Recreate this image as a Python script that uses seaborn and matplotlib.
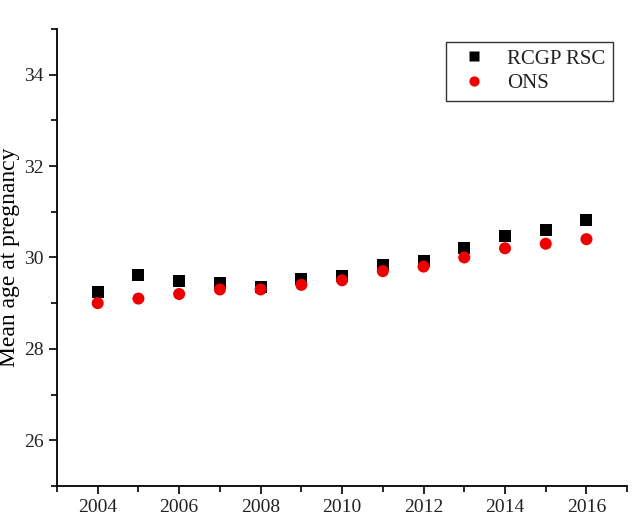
import pandas as pd
import matplotlib.pyplot as plt
import seaborn as sns
from matplotlib.ticker import MultipleLocator

# values
years = list(range(2004, 2017))
rcgp_rsc = [29.25, 29.62, 29.48, 29.43, 29.36, 29.52, 29.60, 29.84, 29.93, 30.21, 30.46, 30.60, 30.81]
ons = [29.0, 29.1, 29.2, 29.3, 29.3, 29.4, 29.5, 29.7, 29.8, 30.0, 30.2, 30.3, 30.4]
series_names = ['RCGP RSC', 'ONS']

data = pd.DataFrame({
    'Year': years * 2,
    'Age': rcgp_rsc + ons,
    'Source': [series_names[0]] * len(years) + [series_names[1]] * len(years),
})

sns.set_theme(style="ticks")
plt.rcParams['font.family'] = ['Liberation Serif', 'DejaVu Serif']

fig = plt.figure(figsize=(6.4, 5.27), dpi=100)
ax = fig.add_axes([0.089, 0.078, 0.891, 0.867])

sns.scatterplot(
    data=data, x='Year', y='Age', hue='Source', style='Source',
    palette=['black', '#ee0000'], markers=['s', 'o'],
    s=75, edgecolor='none', ax=ax,
)

ax.set_xlim(2003, 2017)
ax.set_ylim(25, 35)
ax.xaxis.set_major_locator(MultipleLocator(2))
ax.xaxis.set_minor_locator(MultipleLocator(1))
ax.yaxis.set_major_locator(MultipleLocator(2))
ax.yaxis.set_minor_locator(MultipleLocator(1))
ax.tick_params(which='both', direction='out', width=1.2, colors='black', labelsize=14)
ax.tick_params(which='major', length=6)
ax.tick_params(which='minor', length=4)
for lbl in ax.get_xticklabels() + ax.get_yticklabels():
    lbl.set_color('#222222')

sns.despine(ax=ax)
for side in ['left', 'bottom']:
    ax.spines[side].set_linewidth(1.3)
    ax.spines[side].set_color('black')

ax.set_xlabel('')
ax.set_ylabel('Mean age at pregnancy', fontsize=17, color='black')
ax.yaxis.set_label_coords(-0.064, 0.5)

leg = ax.legend(loc='upper right', bbox_to_anchor=(0.975, 0.972), fontsize=15,
                frameon=True, fancybox=False, edgecolor='black',
                handletextpad=0.6, borderpad=0.35, labelspacing=0.25,
                borderaxespad=0, markerscale=0.85)
leg.get_frame().set_linewidth(1.0)
for t in leg.get_texts():
    t.set_color('#222222')

fig.savefig('out.png', dpi=100)
